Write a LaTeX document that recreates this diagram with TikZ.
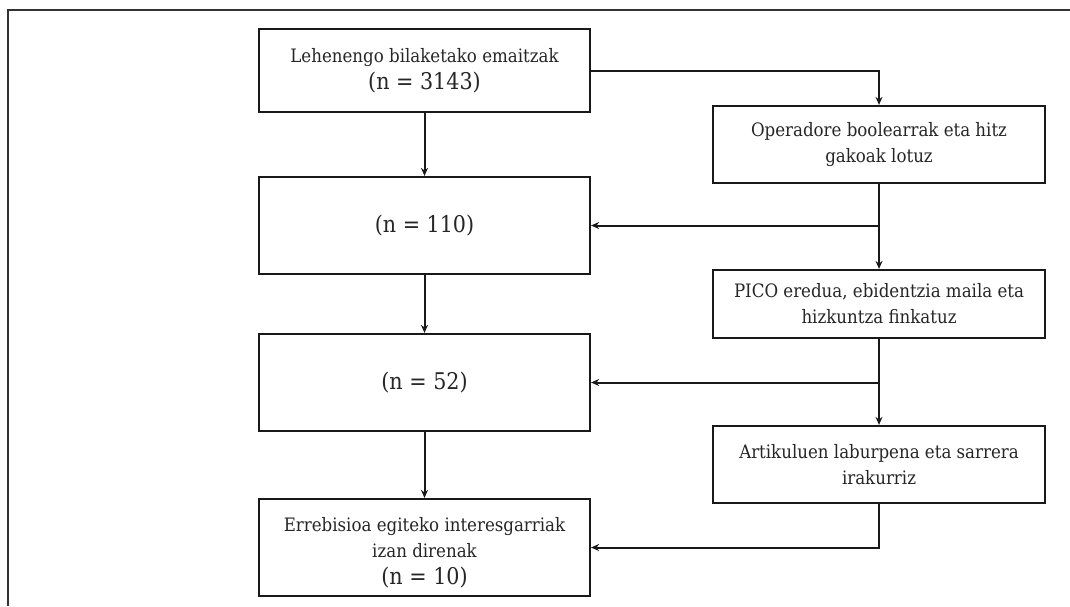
\documentclass[tikz,border=0pt]{standalone}
\usepackage{fontspec}
\setmainfont{DejaVu Serif Condensed}
\usetikzlibrary{arrows.meta}
\begin{document}
\begin{tikzpicture}[x=1pt,y=-1pt,
  box/.style={draw=black!90, line width=2.2pt, fill=white, inner sep=0pt, align=center,
    text=black!85, font=\fontsize{18.5}{26}\selectfont},
  lbox/.style={box, minimum width=331pt},
  rbox/.style={box, minimum width=332pt},
  arr/.style={draw=black!90, line width=2pt, -{Stealth[length=8pt,width=7pt]}},
  big/.style={font=\fontsize{23}{30}\selectfont}]
\useasboundingbox (0,0) rectangle (1070,606);
\draw[black!80, line width=2pt] (1070,9.5) -- (7.5,9.5) -- (7.5,606);
% left column
\node[lbox, minimum height=83pt] (b1) at (424.5,70.5) {Lehenengo bilaketako emaitzak\\[1pt]{\fontsize{23}{30}\selectfont (n = 3143)}};
\node[lbox, minimum height=97pt, big] (b2) at (424.5,225.5) {(n = 110)};
\node[lbox, minimum height=97pt, big] (b3) at (424.5,382.5) {(n = 52)};
\node[lbox, minimum height=97pt] (b4) at (424.5,547.5) {};
\node[align=center, inner sep=0pt, text=black!85, font=\fontsize{18.5}{26}\selectfont] (t4) at (424.5,553) {Errebisioa egiteko interesgarriak\\izan direnak\\[1pt]{\fontsize{23}{30}\selectfont (n = 10)}};
% right column
\node[rbox, minimum height=77pt] (r1) at (879,144.5) {Operadore boolearrak eta hitz\\gakoak lotuz};
\node[rbox, minimum height=68pt] (r2) at (879,304) {PICO eredua, ebidentzia maila eta\\hizkuntza finkatuz};
\node[rbox, minimum height=77pt] (r3) at (879,464.5) {Artikuluen laburpena eta sarrera\\irakurriz};
% connectors
\draw[arr] (b1) -- (b2);
\draw[arr] (b2) -- (b3);
\draw[arr] (b3) -- (b4);
\draw[arr] (b1.east) -| (r1.north);
\draw[arr] (r1) -- (r2);
\draw[arr] (r2) -- (r3);
\draw[arr] (r1.south) |- (b2.east);
\draw[arr] (r2.south) |- (b3.east);
\draw[arr] (r3.south) |- (b4.east);
\end{tikzpicture}
\end{document}
